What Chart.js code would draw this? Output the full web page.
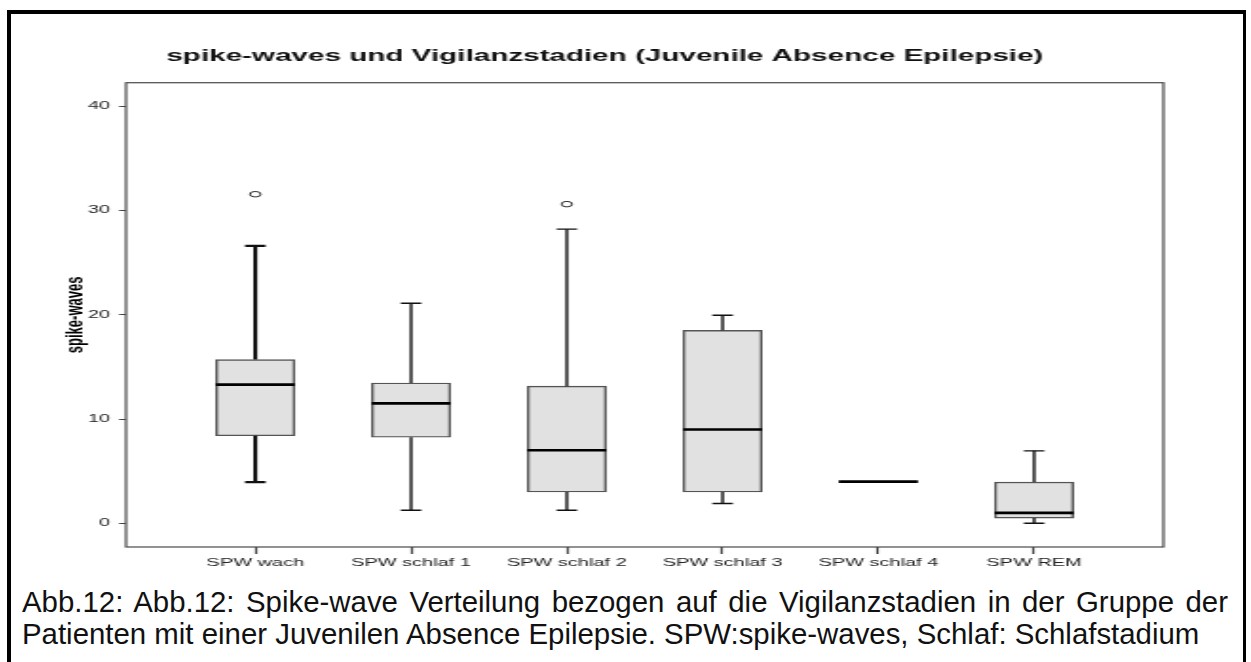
<!DOCTYPE html>
<html>
<head>
<meta charset="utf-8">
<script src="https://cdn.jsdelivr.net/npm/chart.js@4.4.1/dist/chart.umd.min.js"></script>
<style>
	html, body { margin: 0; padding: 0; background: #fff; }
	body { width: 1251px; height: 662px; position: relative; overflow: hidden; }
	#frame {
		position: absolute; left: 7px; top: 10px; width: 1232px; height: 700px;
		border-left: 4px solid #000; border-top: 4px solid #000; border-right: 3px solid #000;
	}
	#c {
		position: absolute; left: 12px; top: 14px;
		transform: scaleX(1.9); transform-origin: 0 0;
	}
	#caption {
		position: absolute; left: 22px; top: 586px; width: 1206px;
		font-family: 'Liberation Sans', Arial, sans-serif;
		font-size: 29.4px; line-height: 32px; color: #111;
		text-align: justify; text-align-last: left;
	}
</style>
</head>
<body>
<div id="frame"></div>
<canvas id="c" width="648" height="570"></canvas>
<div id="caption">Abb.12: Abb.12: Spike-wave Verteilung bezogen auf die Vigilanzstadien in der Gruppe der Patienten mit einer Juvenilen Absence Epilepsie. SPW:spike-waves, Schlaf: Schlafstadium</div>

<script>
// Box plot values
const categories = ['SPW wach', 'SPW schlaf 1', 'SPW schlaf 2', 'SPW schlaf 3', 'SPW schlaf 4', 'SPW REM'];
const whiskerLow = [3.95, 1.25, 1.25, 1.9, 4, 0];
const q1 = [8.4, 8.25, 3.0, 3.0, 4, 0.5];
const median = [13.3, 11.5, 7.0, 9.0, 4, 1.0];
const q3 = [15.7, 13.45, 13.15, 18.5, 4, 3.95];
const whiskerHigh = [26.6, 21.1, 28.2, 19.95, 4, 6.95];
const outliers = [[31.55], [], [30.6], [], [], []];
const yTicks = [0, 10, 20, 30, 40];

const boxHalf = 0.254;
const capHalf = 0.066;

// turn [x1,y1,x2,y2] pieces into one broken line
function segments(list){
	let pts = [];
	list.forEach(function(s){
		pts.push({x: s[0], y: s[1]}, {x: s[2], y: s[3]}, {x: s[2], y: null});
	});
	return pts;
}

let whiskerPieces = [];
let medianPieces = [];
let outlierPoints = [];
categories.forEach(function(c, i){
	whiskerPieces.push([i, q3[i], i, whiskerHigh[i]]);
	whiskerPieces.push([i - capHalf, whiskerHigh[i], i + capHalf, whiskerHigh[i]]);
	whiskerPieces.push([i, whiskerLow[i], i, q1[i]]);
	whiskerPieces.push([i - capHalf, whiskerLow[i], i + capHalf, whiskerLow[i]]);
	medianPieces.push([i - boxHalf, median[i], i + boxHalf, median[i]]);
	outliers[i].forEach(function(v){ outlierPoints.push({x: i, y: v}); });
});

// SPSS style closed frame around the plot
const plotFrame = {
	id: 'plotFrame',
	beforeDatasetsDraw(chart){
		const a = chart.chartArea, ctx = chart.ctx;
		ctx.save();
		ctx.strokeStyle = '#4a4a4a';
		ctx.lineWidth = 1.2;
		ctx.strokeRect(a.left, a.top, a.right - a.left, a.bottom - a.top);
		ctx.restore();
	}
};

const fontFamily = "'Liberation Sans', Arial, sans-serif";

new Chart(document.getElementById('c'), {
	type: 'bar',
	data: {
		datasets: [{
			type: 'scatter',
			data: outlierPoints,
			pointStyle: 'circle',
			pointRadius: 2.8,
			pointBorderWidth: 1,
			pointBorderColor: '#333',
			pointBackgroundColor: '#fff',
			order: 0
		}, {
			type: 'line',
			data: segments(medianPieces),
			borderColor: '#000',
			borderWidth: 2.6,
			pointRadius: 0,
			spanGaps: false,
			order: 1
		}, {
			type: 'line',
			data: segments(whiskerPieces),
			borderColor: '#111',
			borderWidth: 1.4,
			segment: {
				borderWidth: ctx => Math.round(ctx.p0.parsed.x) === 0 ? 2.1 : 1.4
			},
			pointRadius: 0,
			spanGaps: false,
			order: 2
		}, {
			type: 'bar',
			data: categories.map((c, i) => ({x: i, y: [q1[i], q3[i]]})),
			backgroundColor: '#e1e1e1',
			borderColor: '#555',
			borderWidth: 1.4,
			borderSkipped: false,
			barThickness: 41.5,
			order: 3
		}]
	},
	options: {
		responsive: false,
		animation: false,
		events: [],
		layout: {
			padding: {left: 18, right: 42, top: 0, bottom: 0}
		},
		plugins: {
			legend: {display: false},
			tooltip: {enabled: false},
			title: {
				display: true,
				text: 'spike-waves und Vigilanzstadien (Juvenile Absence Epilepsie)',
				color: '#111',
				font: {family: fontFamily, size: 15.6, weight: 'bold'},
				padding: {top: 33.6, bottom: 16.4}
			}
		},
		scales: {
			x: {
				type: 'linear',
				min: -0.83,
				max: 5.83,
				offset: false,
				grid: {offset: false, drawOnChartArea: false, drawTicks: true, tickLength: 7, color: '#444', tickWidth: 1.2},
				border: {display: false},
				afterBuildTicks: s => { s.ticks = categories.map((c, i) => ({value: i})); },
				afterFit: s => { s.height = 37; },
				ticks: {
					autoSkip: false,
					maxRotation: 0,
					padding: 3,
					color: '#222',
					font: {family: fontFamily, size: 10.5},
					callback: v => categories[v]
				}
			},
			y: {
				type: 'linear',
				min: -2.27,
				max: 42.24,
				grid: {drawOnChartArea: false, drawTicks: true, tickLength: 3.7, color: '#444'},
				border: {display: false},
				afterBuildTicks: s => { s.ticks = yTicks.map(v => ({value: v})); },
				afterFit: s => { s.width = 42; },
				ticks: {
					padding: 4.7,
					color: '#222',
					font: {family: fontFamily, size: 10.5}
				},
				title: {
					display: true,
					text: 'spike-waves',
					color: '#000',
					font: {family: fontFamily, size: 13, weight: 'bold'},
					padding: {top: 7.2, bottom: 0}
				}
			}
		}
	},
	plugins: [plotFrame]
});
</script>
</body>
</html>
